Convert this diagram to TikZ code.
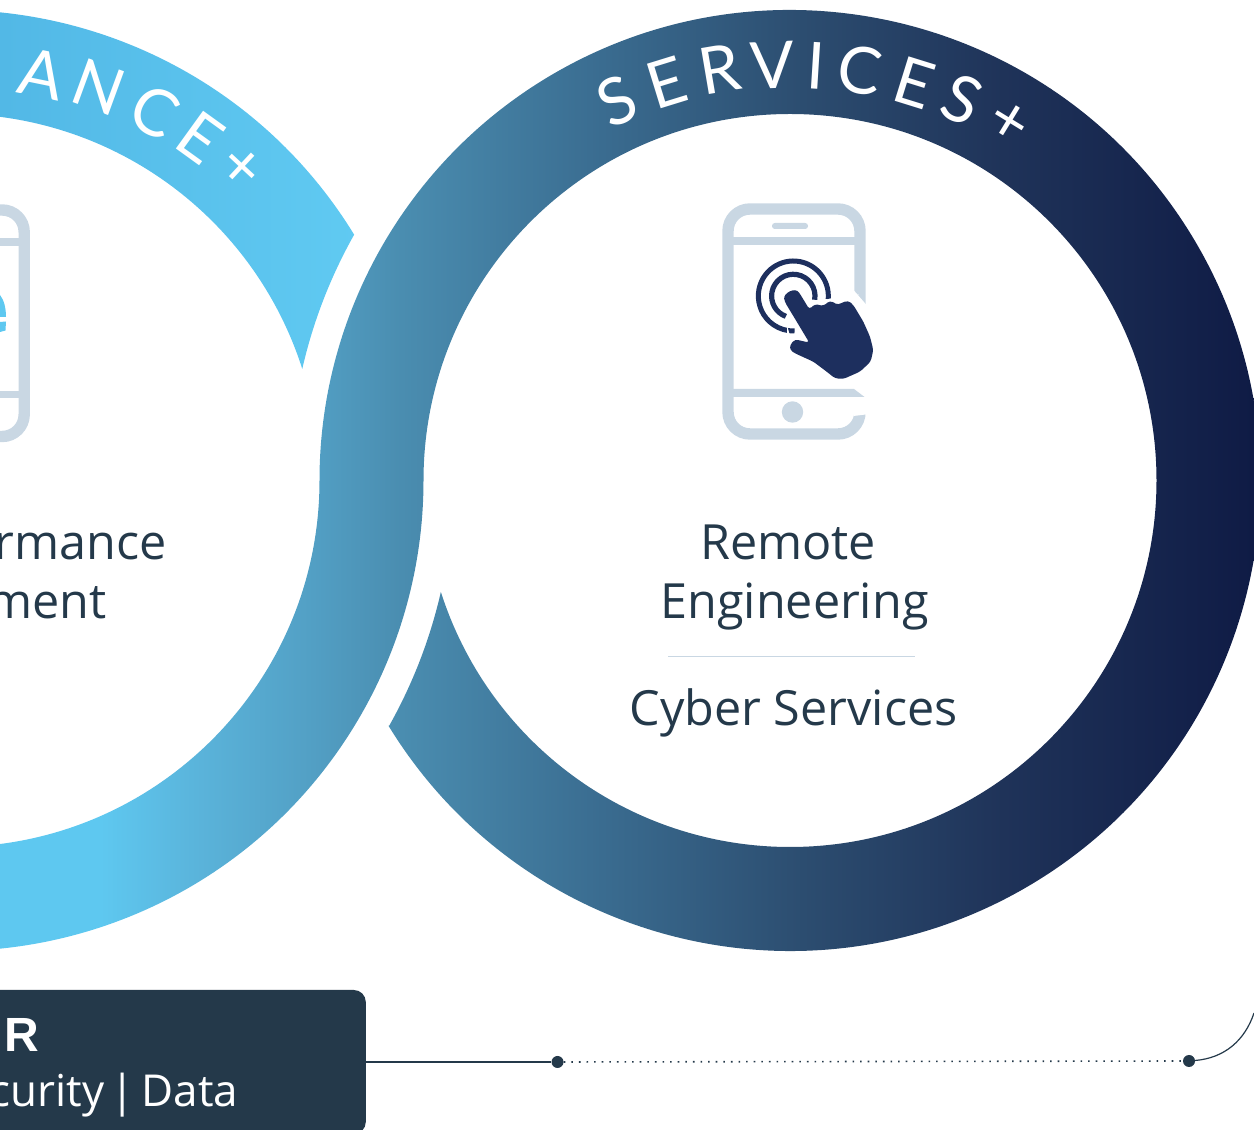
\documentclass[tikz,border=0pt]{standalone}
\usepackage{fontspec}
\setmainfont{Open Sans}
\newfontfamily\arcfont{Lato}
\newfontfamily\heavyface{Liberation Sans}
\definecolor{ink}{HTML}{24394A}
\definecolor{phone}{HTML}{C9D7E3}
\definecolor{navy}{HTML}{1D2F5E}
\definecolor{sky}{HTML}{5EC8F0}
\definecolor{gA}{HTML}{5AB3DA}
\definecolor{gB}{HTML}{529FC4}
\definecolor{gC}{HTML}{4A8DB0}
\definecolor{gD}{HTML}{3A6C90}
\definecolor{gE}{HTML}{2C4D70}
\definecolor{gF}{HTML}{1F3359}
\definecolor{gG}{HTML}{0F1B45}
\definecolor{sA}{HTML}{52B8E6}
\definecolor{sB}{HTML}{60CAF2}
\pgfdeclarehorizontalshading{infinityband}{100bp}{
 color(0bp)=(sky);
 color(29bp)=(sky);
 color(33bp)=(gA);
 color(37.5bp)=(gB);
 color(41bp)=(gC);
 color(49bp)=(gD);
 color(57bp)=(gE);
 color(65bp)=(gF);
 color(75bp)=(gG);
 color(100bp)=(gG)}
\pgfdeclarehorizontalshading{skyband}{100bp}{
 color(0bp)=(sA);
 color(25bp)=(sA);
 color(75bp)=(sB);
 color(100bp)=(sB)}
\tikzset{
 bodytext/.style={text=ink,font=\fontsize{48.5}{50}\selectfont,inner sep=0pt},
 arcletter/.style={text=white,font=\arcfont\fontsize{65}{65}\selectfont,inner sep=0pt},
 phonestroke/.style={draw=phone,line width=11.4pt},
 bar/.style={fill=phone},
 ringline/.style={draw=navy},
 conn/.style={draw=ink,line width=1.2pt},
 dotnode/.style={circle,fill=ink,minimum size=12pt,inner sep=0pt}
}
\def\handpath{(314,365) .. controls (310,340) and (345,320) .. (362,345)
  -- (388,388) -- (405,372) -- (430,378) -- (450,362) -- (475,375) -- (485,368) -- (505,362) -- (520,375) -- (550,425) -- (570,470) -- (580,510) -- (572,545) -- (540,575) -- (490,597) -- (465,595) -- (440,575) -- (400,545) -- (345,520) -- (330,510) -- (330,495) -- (345,478) -- (388,488) -- cycle}
\begin{document}
\begin{tikzpicture}[x=1pt,y=1pt]
\useasboundingbox (0,0) rectangle (1254,1130);
\clip (0,0) rectangle (1254,1130);
% dark band
\begin{scope}
\clip (790,649.5)++(211.4:470.5) arc[start angle=211.4,end angle=540,radius=470.5]
  arc[start angle=0,end angle=-120,radius=366.5]
  -- ++(-120:104)
  arc[start angle=-120,end angle=0,radius=470.5]
  arc[start angle=180,end angle=-162.3,radius=366.5]
  arc[start angle=-12.87,end angle=-29.4,radius=500.5]
  -- cycle;
\shade[shading=infinityband] (0,-5) rectangle (1254,1135);
\end{scope}
% light band
\begin{scope}
\clip (-47,649.5)++(120:470.5) arc[start angle=120,end angle=31.5,radius=470.5]
  arc[start angle=150.6,end angle=167.13,radius=500.5]
  arc[start angle=17.7,end angle=120,radius=366.5] -- cycle;
\shade[shading=skyband] (0,500) rectangle (360,1130);
\end{scope}
% arc letters
\foreach \ch/\x/\y/\r in {S/617/101/24.4,E/667/83/17.15,R/720/69.5/9.63,V/772/65/2.47,I/816/66/-3.57,C/860/70.5/-9.65,E/914/83/-17.28,S/962/99/-24.2,+/1008/123/-31.5,A/42/74/-11.5,N/99/87/-20.1,C/155/112/-28.7,E/200/138/-35.8,+/240/169/-43}{
 \node[arcletter,rotate=\r] (L\x) at (\x,1130-\y) {\ch};
}
% right phone
\draw[phonestroke,rounded corners=22pt] (728,921) rectangle (860,696);
\fill[white] (853.5,840) -- (870,821) -- (870,716) -- (853.5,714) -- cycle;
\fill[bar] (730,893) rectangle (858,885);
\fill[bar] (730,741) -- (854,741) -- (864.5,733) -- (730,733) -- cycle;
\fill[bar,rounded corners=2.8pt] (772,907) rectangle (808,901);
\fill[bar] (792.5,718) circle[radius=10.7pt];
% left phone
\draw[phonestroke,rounded corners=22pt] (-109,920) rectangle (24.2,693.5);
\fill[bar] (-100,892) rectangle (20,884);
\fill[bar] (-100,739) rectangle (20,732);
% blue e fragment
\fill[sky] (0,835) .. controls (4,830) and (6,822) .. (6,813) -- (0,813) -- cycle;
\fill[sky] (0,808) -- (6,808.5) -- (5.5,799.5) -- (0,798) -- cycle;
% rings + hand
\begin{scope}[shift={(680,950)},x=0.33333pt,y=-0.33333pt]
 \draw[ringline,line width=5pt] (340,348)++(5:105) arc[start angle=-5,end angle=272,radius=35pt];
 \draw[ringline,line width=5.2pt] (340,348)++(10:65) arc[start angle=-10,end angle=250,radius=21.7pt];
 \path[draw=white,line width=6pt,rounded corners=3pt] \handpath;
 \path[fill=navy,rounded corners=3pt] \handpath;
\end{scope}
% body text
\node[bodytext,anchor=base] (t1) at (788,570) {Remote};
\node[bodytext,anchor=base] (t2) at (794.5,511) {Engineering};
\node[bodytext,anchor=base] (t3) at (793.5,404) {Cyber Services};
\node[bodytext,anchor=base east] (t4) at (167,570) {rmance};
\node[bodytext,anchor=base east] (t5) at (107,511) {ment};
\draw[phone,line width=1pt] (668,473) -- (915,473);
% box
\node[fill=ink,rounded corners=12pt,inner sep=0pt,minimum width=390pt,minimum height=144pt,anchor=east] (box) at (366,68) {};
\node[text=white,font=\heavyface\bfseries\fontsize{48}{50}\selectfont,inner sep=0pt,anchor=base east] (t6) at (39,78) {R};
\node[text=white,font=\fontsize{44}{50}\selectfont,inner sep=0pt,anchor=base east] (t7) at (238.5,23) {\spaceskip=6.5pt curity | Data};
\node[dotnode] (d1) at (557.5,68) {};
\node[dotnode] (d2) at (1189,69) {};
\coordinate (c3) at (1254,117);
\draw[conn] (box.east) -- (d1);
\draw[ink,line width=1.6pt,dash pattern=on 1.6pt off 6pt] (d1) -- (d2);
\draw[conn] (d2) .. controls (1225,72) and (1245,90) .. (c3);
\end{tikzpicture}
\end{document}
